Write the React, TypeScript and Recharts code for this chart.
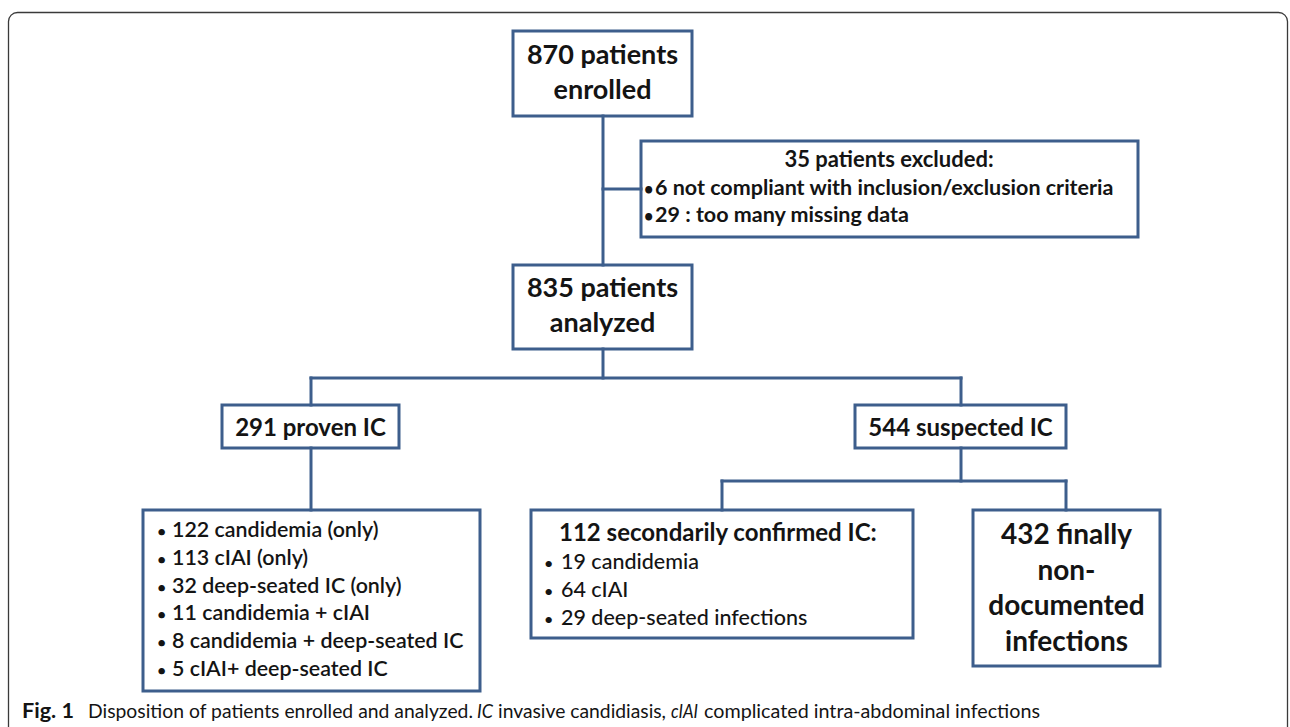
import React from 'react';
import {
  ScatterChart,
  Scatter,
  XAxis,
  YAxis,
  ReferenceArea,
  ReferenceLine
} from 'recharts';

// ============================================================================
// CONTENT
// ============================================================================

const ENROLLED = ['870 patients', 'enrolled'];
const EXCLUDED_TITLE = '35 patients excluded:';
const EXCLUDED_ITEMS = ['6 not compliant with inclusion/exclusion criteria', '29 : too many missing data'];
const ANALYZED = ['835 patients', 'analyzed'];
const PROVEN = '291 proven IC';
const SUSPECTED = '544 suspected IC';
const PROVEN_ITEMS = [
  '122 candidemia (only)',
  '113 cIAI (only)',
  '32 deep-seated IC (only)',
  '11 candidemia + cIAI',
  '8 candidemia + deep-seated IC',
  '5 cIAI+ deep-seated IC'
];
const CONFIRMED_TITLE = '112 secondarily confirmed IC:';
const CONFIRMED_ITEMS = ['19  candidemia', '64  cIAI', '29  deep-seated infections'];
const NON_DOCUMENTED = ['432 finally', 'non-', 'documented', 'infections'];
const CAPTION_LABEL = 'Fig. 1';
const CAPTION_PARTS = [
  { t: 'Disposition of patients enrolled and analyzed.', italic: false },
  { t: 'IC', italic: true },
  { t: 'invasive candidiasis,', italic: false },
  { t: 'cIAI', italic: true },
  { t: 'complicated intra-abdominal infections', italic: false }
];

// ============================================================================
// LAYOUT (page coordinates, y grows downward)
// ============================================================================

const W = 1290;
const H = 727;
const BLUE = '#3d5e8c';
const INK = '#141414';
const FONT = 'Lato, "Open Sans", sans-serif';

const BOXES = [
  { id: 'enrolled', x1: 513, x2: 692, y1: 31, y2: 116 },
  { id: 'excluded', x1: 641, x2: 1138, y1: 141, y2: 237 },
  { id: 'analyzed', x1: 513, x2: 692, y1: 265, y2: 349 },
  { id: 'proven', x1: 222, x2: 399, y1: 405, y2: 448 },
  { id: 'suspected', x1: 855, x2: 1066, y1: 405, y2: 448 },
  { id: 'provenList', x1: 143, x2: 480, y1: 510, y2: 691 },
  { id: 'confirmed', x1: 531, x2: 913, y1: 510, y2: 638 },
  { id: 'nonDoc', x1: 973, x2: 1160, y1: 510, y2: 666 }
];

const LINKS = [
  [[603, 116], [603, 265]],
  [[603, 189], [641, 189]],
  [[603, 349], [603, 378]],
  [[311, 378], [961, 378]],
  [[311, 378], [311, 405]],
  [[961, 378], [961, 405]],
  [[311, 448], [311, 510]],
  [[961, 448], [961, 481]],
  [[722, 481], [1066, 481]],
  [[722, 481], [722, 510]],
  [[1066, 481], [1066, 510]]
];

// caption segment slots: start x and fitted width
const CAPTION_SLOTS = [
  { x: 88, w: 385 },
  { x: 477, w: 16 },
  { x: 498, w: 168 },
  { x: 671, w: 27 },
  { x: 704, w: 336 }
];

const BIG = { anchor: 'middle', size: 27, weight: 700 };
const MID = { anchor: 'middle', size: 24, weight: 700 };

const TEXT_POINTS: any[] = [
  ...ENROLLED.map((text, i) => ({ text, x: 602.5, y: 64 + i * 35, ...BIG })),
  { text: EXCLUDED_TITLE, x: 889, y: 167, anchor: 'middle', size: 22, weight: 700 },
  ...EXCLUDED_ITEMS.map((text, i) => ({
    text, x: 655, y: 195 + i * 27, anchor: 'start', size: 21.5, weight: 700, bullet: 11
  })),
  ...ANALYZED.map((text, i) => ({ text, x: 602.5, y: 297 + i * 35, ...BIG })),
  { text: PROVEN, x: 310.5, y: 436, ...MID },
  { text: SUSPECTED, x: 960.5, y: 436, ...MID },
  ...PROVEN_ITEMS.map((text, i) => ({
    text, x: 172, y: 537 + i * 27.8, anchor: 'start', size: 21.4, weight: 600, bullet: 15
  })),
  { text: CONFIRMED_TITLE, x: 559, y: 541, anchor: 'start', size: 24, weight: 700 },
  ...CONFIRMED_ITEMS.map((text, i) => ({
    text, x: 561, y: 569 + i * 28, anchor: 'start', size: 21.5, weight: 500, bullet: 17
  })),
  ...NON_DOCUMENTED.map((text, i) => ({ text, x: 1066.5, y: 544 + i * 35.7, ...BIG, size: 28 })),
  { text: CAPTION_LABEL, x: 22, y: 718, anchor: 'start', size: 20, weight: 700, fit: 52 },
  ...CAPTION_PARTS.map((p, i) => ({
    text: p.t, x: CAPTION_SLOTS[i].x, y: 718, anchor: 'start', size: 19.5, weight: 400,
    italic: p.italic, fit: CAPTION_SLOTS[i].w
  }))
];

// ============================================================================
// MARKS
// ============================================================================

const TextMark = (props: any) => {
  const { cx, cy, payload } = props;
  if (cx == null || cy == null || !payload) return null;

  return (
    <g fontFamily={FONT} fill={INK} fontSize={payload.size} fontWeight={payload.weight} style={{ whiteSpace: 'pre' }}>
      {payload.bullet ? (
        <text x={cx - payload.bullet} y={cy} fontSize={payload.size * 0.75}>•</text>
      ) : null}
      <text
        x={cx}
        y={cy}
        textAnchor={payload.anchor}
        fontStyle={payload.italic ? 'italic' : 'normal'}
        textLength={payload.fit}
        lengthAdjust={payload.fit ? 'spacingAndGlyphs' : undefined}
      >
        {payload.text}
      </text>
    </g>
  );
};

const Frame = (props: any) => {
  const { x, y, width, height } = props;
  return (
    <rect x={x + 0.5} y={y + 0.5} width={width} height={height} rx={9}
      fill="none" stroke="#3a3a3a" strokeWidth={1.3} />
  );
};

// ============================================================================
// COMPONENT
// ============================================================================

export default function App() {
  return (
    <div style={{ position: 'absolute', left: 0, top: 0, width: W, height: H, background: '#fff' }}>
      <ScatterChart width={W} height={H} margin={{ top: 0, right: 0, bottom: 0, left: 0 }}>
        <XAxis type="number" dataKey="x" domain={[0, W]} allowDataOverflow hide />
        <YAxis type="number" dataKey="y" domain={[0, H]} allowDataOverflow reversed hide />

        <ReferenceArea x1={8} x2={1287} y1={12} y2={760} ifOverflow="visible" shape={<Frame />} />

        {LINKS.map((seg, i) => (
          <ReferenceLine
            key={`link-${i}`}
            segment={[{ x: seg[0][0], y: seg[0][1] }, { x: seg[1][0], y: seg[1][1] }]}
            stroke={BLUE}
            strokeWidth={3}
            strokeLinecap="square"
            ifOverflow="visible"
          />
        ))}

        {BOXES.map((b) => (
          <ReferenceArea
            key={b.id}
            x1={b.x1}
            x2={b.x2}
            y1={b.y1}
            y2={b.y2}
            fill="#ffffff"
            fillOpacity={1}
            stroke={BLUE}
            strokeWidth={3}
            ifOverflow="visible"
          />
        ))}

        <Scatter data={TEXT_POINTS} dataKey="y" shape={TextMark} isAnimationActive={false} />
      </ScatterChart>
    </div>
  );
}
